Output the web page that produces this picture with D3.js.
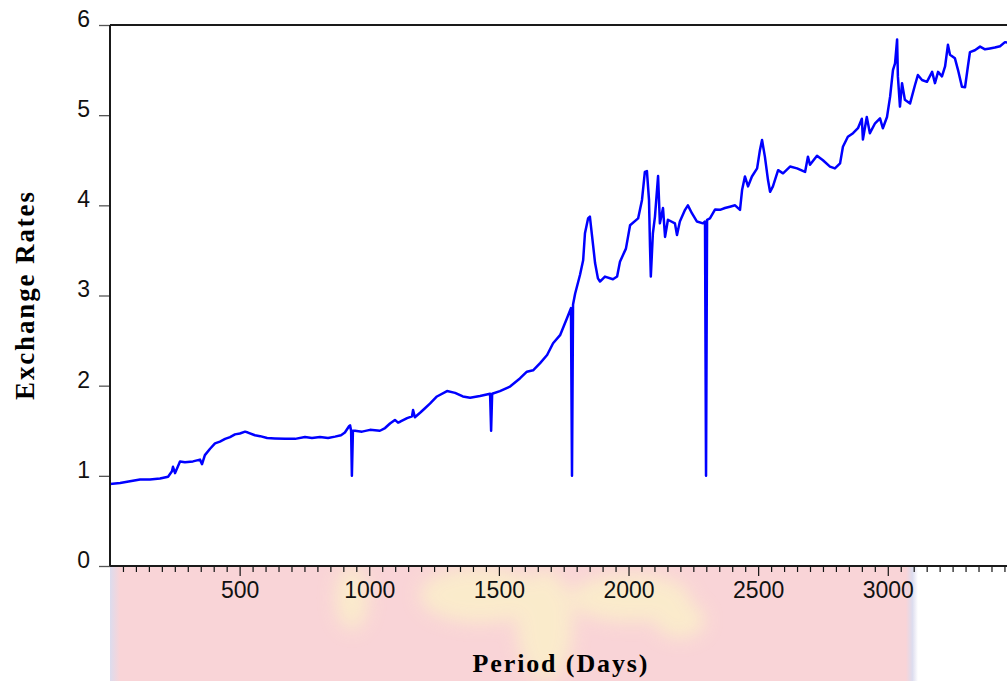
<!DOCTYPE html>
<html><head><meta charset="utf-8">
<script src="https://cdn.jsdelivr.net/npm/d3@7"></script>
<style>html,body{margin:0;padding:0;background:#fff;}svg{display:block;}</style>
</head><body>
<script>
const days = [0,39,77,116,154,193,224,239,243,251,270,289,320,347,355,366,386,405,424,444,463,482,501,521,532,559,579,606,636,675,714,752,779,810,841,868,891,906,922,926,930,933,937,945,972,1003,1041,1061,1080,1099,1111,1119,1146,1165,1169,1176,1196,1215,1234,1261,1300,1331,1361,1389,1427,1466,1470,1474,1504,1543,1581,1608,1632,1659,1686,1709,1736,1763,1778,1782,1786,1794,1813,1825,1832,1844,1851,1859,1871,1882,1890,1909,1940,1956,1967,1990,2006,2037,2052,2063,2071,2079,2083,2086,2094,2102,2114,2121,2133,2141,2152,2179,2187,2198,2218,2229,2245,2264,2287,2295,2299,2303,2314,2334,2353,2372,2391,2411,2430,2438,2449,2461,2476,2496,2507,2515,2526,2538,2546,2557,2577,2596,2623,2650,2681,2692,2700,2727,2750,2777,2796,2816,2827,2846,2866,2885,2900,2904,2919,2931,2951,2970,2981,2997,3009,3020,3028,3036,3039,3047,3055,3066,3086,3105,3116,3132,3151,3171,3182,3194,3209,3221,3232,3240,3259,3271,3286,3298,3309,3317,3336,3356,3375,3394,3413,3433,3452,3471];
const rates = [0.91,0.92,0.94,0.96,0.96,0.97,0.99,1.05,1.10,1.03,1.16,1.15,1.16,1.18,1.13,1.23,1.30,1.36,1.38,1.41,1.43,1.46,1.47,1.49,1.48,1.45,1.44,1.42,1.415,1.41,1.41,1.43,1.42,1.43,1.42,1.435,1.45,1.48,1.55,1.56,1.50,1.00,1.50,1.50,1.49,1.51,1.50,1.53,1.58,1.62,1.59,1.60,1.64,1.66,1.73,1.65,1.70,1.75,1.80,1.88,1.94,1.92,1.88,1.865,1.885,1.91,1.50,1.91,1.94,1.99,2.08,2.155,2.17,2.25,2.34,2.47,2.56,2.75,2.86,1.00,2.90,3.02,3.23,3.39,3.69,3.855,3.875,3.67,3.36,3.19,3.155,3.21,3.18,3.21,3.375,3.52,3.78,3.855,4.06,4.37,4.38,4.06,3.53,3.21,3.69,3.875,4.325,3.80,3.97,3.65,3.84,3.80,3.67,3.82,3.95,4.00,3.91,3.82,3.80,3.82,1.00,3.84,3.855,3.955,3.95,3.97,3.985,4.00,3.95,4.17,4.32,4.21,4.32,4.41,4.615,4.725,4.54,4.28,4.15,4.21,4.39,4.355,4.43,4.41,4.37,4.54,4.45,4.55,4.50,4.43,4.41,4.465,4.65,4.76,4.80,4.855,4.96,4.73,4.98,4.80,4.91,4.965,4.855,4.98,5.205,5.50,5.575,5.84,5.43,5.095,5.355,5.17,5.13,5.335,5.445,5.39,5.37,5.48,5.355,5.48,5.43,5.54,5.78,5.67,5.63,5.50,5.315,5.31,5.54,5.70,5.72,5.76,5.73,5.74,5.75,5.765,5.81,5.80];
const yTicks = [0,1,2,3,4,5,6];
const xMajorTicks = [500,1000,1500,2000,2500,3000];
const xTitle = "Period (Days)";
const yTitle = "Exchange Rates";

const W = 1007, H = 681;
const svg = d3.select("body").append("svg").attr("width", W).attr("height", H);
const defs = svg.append("defs");
defs.append("filter").attr("id","blur").attr("x","-50%").attr("y","-50%").attr("width","200%").attr("height","200%")
  .append("feGaussianBlur").attr("stdDeviation", 9);
const lg = defs.append("linearGradient").attr("id","edge").attr("x1","0").attr("x2","1");
lg.append("stop").attr("offset","0").attr("stop-color","#dcdcee");
lg.append("stop").attr("offset","0.012").attr("stop-color","#f9d4d7");
lg.append("stop").attr("offset","0.985").attr("stop-color","#f9d4d7");
lg.append("stop").attr("offset","0.993").attr("stop-color","#dcdcee");
lg.append("stop").attr("offset","1").attr("stop-color","#ffffff");

const x0 = 110, y0 = 566, yTop = 25;
const x = d3.scaleLinear().domain([0, 3500]).range([x0, x0 + 3500 * 0.25926]);
const y = d3.scaleLinear().domain([0, 6]).range([y0, yTop]);

// watermark band below plot
const wm = svg.append("g");
wm.append("rect").attr("x", 110).attr("y", y0).attr("width", 808).attr("height", H - y0).attr("fill", "url(#edge)");
const wy = wm.append("g").attr("filter","url(#blur)").attr("fill","#fbf1c9").attr("opacity",0.8);
wy.append("ellipse").attr("cx",352).attr("cy",598).attr("rx",16).attr("ry",32);
wy.append("ellipse").attr("cx",480).attr("cy",595).attr("rx",60).attr("ry",28);
wy.append("ellipse").attr("cx",545).attr("cy",625).attr("rx",28).attr("ry",55);
wy.append("ellipse").attr("cx",630).attr("cy",598).attr("rx",60).attr("ry",24);
wy.append("ellipse").attr("cx",680).attr("cy",620).attr("rx",25).attr("ry",18);

// plot background
svg.append("rect").attr("x", x0).attr("y", yTop).attr("width", W - x0).attr("height", y0 - yTop).attr("fill", "#fff");

// line
svg.append("defs").append("clipPath").attr("id","clip").append("rect")
  .attr("x", x0).attr("y", 0).attr("width", W - x0).attr("height", y0);
const line = d3.line().x((d, i) => x(days[i])).y(d => y(d));
svg.append("path").datum(rates).attr("clip-path","url(#clip)")
  .attr("d", line).attr("fill","none").attr("stroke","#0000ff").attr("stroke-width",2.5)
  .attr("stroke-linejoin","round");

// y axis
const yAxis = d3.axisLeft(y).tickValues(yTicks).tickSize(11).tickPadding(9).tickFormat(d3.format("d"));
const gy = svg.append("g").attr("transform", `translate(${x0},0)`).call(yAxis);
gy.select(".domain").remove();
gy.selectAll(".tick line").attr("stroke","#555").attr("stroke-width",1.3);
gy.selectAll(".tick text").attr("font-family","'Liberation Sans', Arial, sans-serif").attr("font-size",23)
  .attr("fill","#111").attr("dy","0.06em");

// x axis minor + major
const minor = d3.range(50, 3500, 50).filter(v => v % 500 !== 0);
const xMinor = d3.axisBottom(x).tickValues(minor).tickSize(6).tickFormat("");
const gxm = svg.append("g").attr("transform", `translate(0,${y0})`).call(xMinor);
gxm.select(".domain").remove();
gxm.selectAll(".tick line").attr("stroke","#111").attr("stroke-width",1.2);
const xAxis = d3.axisBottom(x).tickValues(xMajorTicks).tickSize(10).tickPadding(6).tickFormat(d3.format("d"));
const gx = svg.append("g").attr("transform", `translate(0,${y0})`).call(xAxis);
gx.select(".domain").remove();
gx.selectAll(".tick line").attr("stroke","#111").attr("stroke-width",1.2);
gx.selectAll(".tick text").attr("font-family","'Liberation Sans', Arial, sans-serif").attr("font-size",23).attr("fill","#111");

// frame
const frame = svg.append("g").attr("stroke","#1a1a1a").attr("stroke-width",2).attr("fill","none");
frame.append("line").attr("x1",x0).attr("x2",W).attr("y1",yTop).attr("y2",yTop);
frame.append("line").attr("x1",x0).attr("x2",x0).attr("y1",yTop).attr("y2",y0);
frame.append("line").attr("x1",x0).attr("x2",W).attr("y1",y0).attr("y2",y0);

// titles
svg.append("text").attr("x", 560).attr("y", 672).attr("text-anchor","middle")
  .attr("font-family","'Liberation Serif', 'Times New Roman', serif").attr("font-weight","bold")
  .attr("font-size",26).attr("fill","#000").attr("textLength",175).attr("lengthAdjust","spacing").text(xTitle);
svg.append("text").attr("transform","translate(33.5,296) rotate(-90)").attr("text-anchor","middle")
  .attr("font-family","'Liberation Serif', 'Times New Roman', serif").attr("font-weight","bold")
  .attr("font-size",27).attr("fill","#000").attr("textLength",208).attr("lengthAdjust","spacing").text(yTitle);
</script>
</body></html>
